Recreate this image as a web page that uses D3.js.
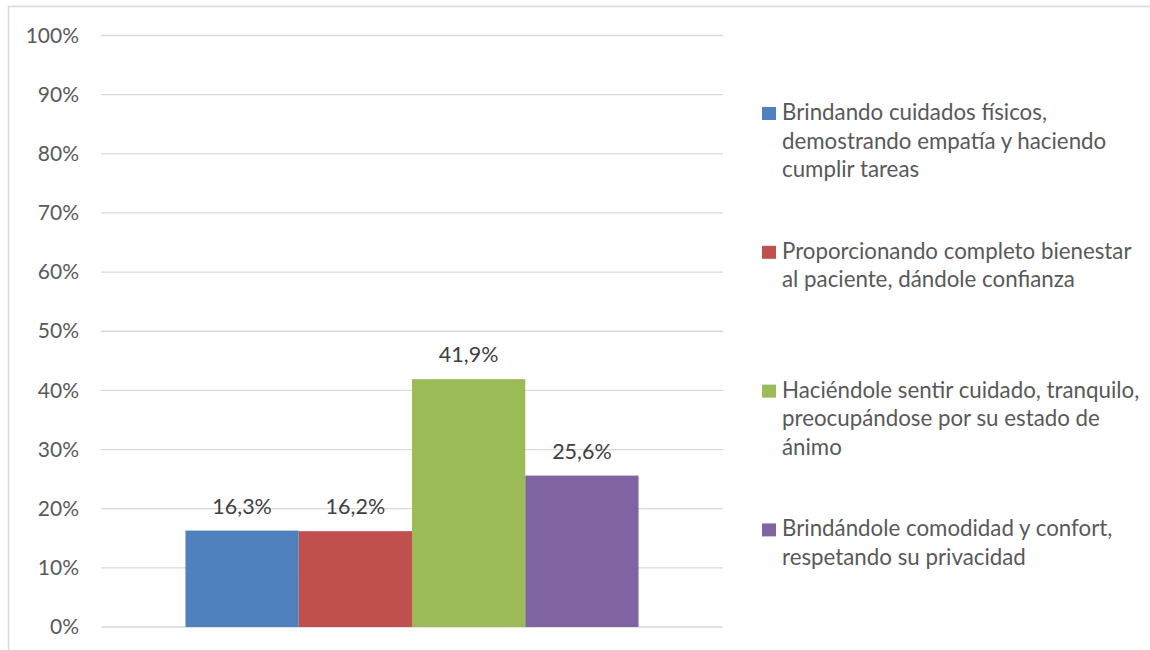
<!DOCTYPE html>
<html>
<head>
<meta charset="utf-8">
<script src="https://cdn.jsdelivr.net/npm/d3@7"></script>
<style>
  body { margin: 0; background: #fff; }
  svg text { font-family: Lato, "Open Sans", sans-serif; }
</style>
</head>
<body>
<div id="chart"></div>
<script>
(function() {
    const width = 1150;
    const height = 650;

    // series shown as four bars in a single category
    const series = [
        ["Brindando cuidados físicos,", "demostrando empatía y haciendo", "cumplir tareas"],
        ["Proporcionando completo bienestar", "al paciente, dándole confianza"],
        ["Haciéndole sentir cuidado, tranquilo,", "preocupándose por su estado de", "ánimo"],
        ["Brindándole comodidad y confort,", "respetando su privacidad"]
    ];
    const values = [0.163, 0.162, 0.419, 0.256];
    const valueLabels = ["16,3%", "16,2%", "41,9%", "25,6%"];
    const colors = ["#4F81BD", "#C0504D", "#9BBB59", "#8064A2"];
    const yTicks = [0, 0.1, 0.2, 0.3, 0.4, 0.5, 0.6, 0.7, 0.8, 0.9, 1];

    const svg = d3.select("#chart")
        .append("svg")
        .attr("width", width)
        .attr("height", height);

    // chart area border
    svg.append("rect")
        .attr("x", 8.5).attr("y", 6.5)
        .attr("width", 1300).attr("height", 800)
        .attr("fill", "none")
        .attr("stroke", "#d9d9d9")
        .attr("stroke-width", 1.5);

    const plotLeft = 101, plotRight = 723;
    const y = d3.scaleLinear().domain([0, 1]).range([627, 35.5]);

    // the one category holds the group of bars
    const x0 = d3.scaleBand().domain(["g"]).range([plotLeft, plotRight]).paddingInner(0).paddingOuter(0.1864);
    const x1 = d3.scaleBand().domain(d3.range(values.length)).range([x0("g"), x0("g") + x0.bandwidth()]);

    // gridlines
    svg.append("g")
        .selectAll("line")
        .data(yTicks)
        .enter().append("line")
        .attr("x1", plotLeft).attr("x2", plotRight)
        .attr("y1", d => y(d)).attr("y2", d => y(d))
        .attr("stroke", "#d9d9d9")
        .attr("stroke-width", 1.3);

    // y axis labels
    const yAxis = d3.axisLeft(y).tickValues(yTicks).tickFormat(d3.format(".0%")).tickSize(0).tickPadding(0);
    const ga = svg.append("g")
        .attr("transform", "translate(79,0)")
        .call(yAxis);
    ga.select(".domain").remove();
    ga.selectAll("text")
        .attr("font-family", "Lato, sans-serif")
        .attr("font-size", 21)
        .attr("fill", "#595959");

    // bars
    svg.append("g")
        .selectAll("rect")
        .data(values)
        .enter().append("rect")
        .attr("x", (d, i) => x1(i))
        .attr("y", d => y(d))
        .attr("width", x1.bandwidth())
        .attr("height", d => y(0) - y(d))
        .attr("fill", (d, i) => colors[i]);

    // value labels
    svg.append("g")
        .selectAll("text")
        .data(values)
        .enter().append("text")
        .attr("x", (d, i) => x1(i) + x1.bandwidth() / 2)
        .attr("y", d => y(d) - 17)
        .attr("text-anchor", "middle")
        .attr("font-size", 21.5)
        .attr("fill", "#404040")
        .text((d, i) => valueLabels[i]);

    // legend
    const legend = svg.append("g")
        .selectAll("g")
        .data(series)
        .enter().append("g")
        .attr("transform", (d, i) => `translate(762,${120 + i * 138.8})`);

    legend.append("rect")
        .attr("x", 0).attr("y", -13)
        .attr("width", 14).attr("height", 13)
        .attr("fill", (d, i) => colors[i]);

    legend.append("text")
        .attr("x", 20)
        .attr("font-size", 22.3)
        .attr("fill", "#595959")
        .selectAll("tspan")
        .data(d => d)
        .enter().append("tspan")
        .attr("x", 20)
        .attr("dy", (d, j) => j === 0 ? 0 : 28.7)
        .text(d => d);
})();
</script>
</body>
</html>
